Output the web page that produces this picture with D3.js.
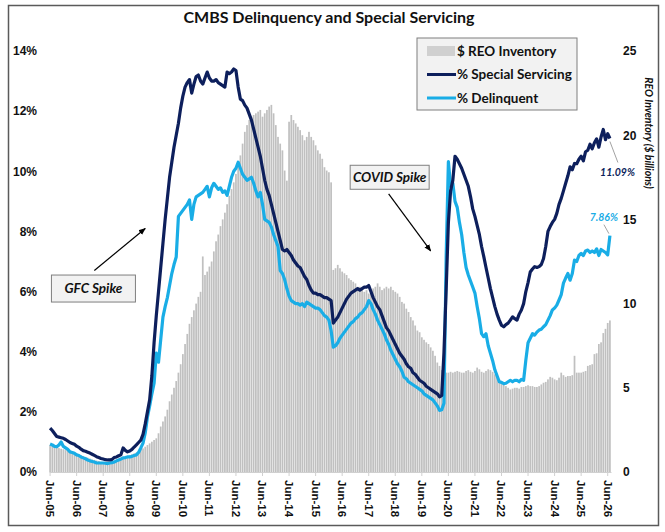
<!DOCTYPE html>
<html>
<head>
<meta charset="utf-8">
<script src="https://cdn.jsdelivr.net/npm/d3@7"></script>
<style>
  body { margin: 0; background: #fff; }
  svg { display: block; font-family: Lato, "Open Sans", sans-serif; }
</style>
</head>
<body>
<svg id="chart"></svg>
<script>
// monthly series, Jun-05 onward (one row = Jun..May)
var tickLabels = ["Jun-05","Jun-06","Jun-07","Jun-08","Jun-09","Jun-10","Jun-11",
  "Jun-12","Jun-13","Jun-14","Jun-15","Jun-16","Jun-17","Jun-18","Jun-19","Jun-20",
  "Jun-21","Jun-22","Jun-23","Jun-24","Jun-25","Jun-26"];

var leftTicks = [0, 2, 4, 6, 8, 10, 12, 14];
var rightTicks = [0, 5, 10, 15, 20, 25];

// $ billions
var reoInventory = [
  1.6, 1.55, 1.5, 1.45, 1.42, 1.38, 1.35, 1.3, 1.25, 1.2, 1.18, 1.15,
  1.1, 1.05, 1.0, 0.95, 0.9, 0.85, 0.8, 0.75, 0.72, 0.68, 0.65, 0.6,
  0.57, 0.55, 0.53, 0.55, 0.58, 0.62, 0.68, 0.75, 0.82, 0.88, 0.93, 0.97,
  1.0, 1.05, 1.1, 1.15, 1.2, 1.3, 1.4, 1.5, 1.6, 1.7, 1.8, 1.9,
  2.0, 2.3, 2.7, 3.0, 3.3, 3.7, 4.2, 4.6, 5.0, 5.4, 5.9, 6.4,
  7.0, 7.6, 8.2, 8.8, 9.2, 9.6, 10.0, 10.4, 10.7, 12.8, 11.7, 11.9,
  12.2, 12.5, 13.1, 13.7, 14.1, 14.6, 15.0, 15.4, 15.9, 16.4, 16.8, 17.2,
  17.7, 18.2, 18.8, 19.5, 20.2, 20.6, 20.9, 21.1, 21.2, 21.3, 21.4, 21.5,
  21.1, 21.3, 21.5, 21.7, 21.8, 21.3, 20.6, 19.9, 19.5, 19.1, 17.9, 17.3,
  20.8, 21.2, 20.9, 20.7, 20.5, 20.3, 20.0, 19.7, 19.9, 20.2, 19.9, 19.7,
  19.4, 19.1, 18.9, 18.6, 18.1, 17.9, 17.8, 17.2, 12.0, 12.1, 12.3, 12.1,
  11.9, 11.8, 11.7, 11.5, 11.4, 11.3, 11.2, 11.0, 11.0, 10.9, 10.7, 10.8,
  10.6, 10.7, 10.9, 11.0, 11.2, 11.0, 10.8, 10.9, 11.0, 10.9, 11.0, 10.8,
  10.7, 10.6, 10.4, 10.1, 10.0, 9.7, 9.5, 9.2, 9.0, 8.7, 8.4, 8.3,
  8.0, 7.85, 7.7, 7.6, 7.4, 7.2, 6.9, 6.5, 6.3, 6.05, 6.0, 5.9,
  5.9, 5.95, 5.9, 5.95, 6.0, 5.95, 5.9, 5.9, 6.0, 6.05, 5.95, 5.9,
  6.0, 6.2, 6.1, 5.95, 5.9, 6.0, 6.1, 6.05, 5.95, 5.8, 5.65, 5.5,
  5.3, 5.2, 5.1, 5.0, 4.9, 4.95, 5.0, 5.0, 4.95, 5.05, 5.05, 5.1,
  5.15, 5.1, 5.1, 5.05, 5.05, 5.1, 5.2, 5.3, 5.35, 5.5, 5.65, 5.6,
  5.5, 5.45, 5.6, 5.9, 5.75, 5.65, 5.7, 5.7, 5.75, 6.9, 5.9, 5.9,
  5.9, 5.95, 6.0, 6.3, 6.35, 6.4, 7.0, 7.05, 7.6, 7.7, 8.25, 8.5,
  8.85, 9.0
];

// %
var specialServicing = [
  1.46, 1.38, 1.28, 1.18, 1.16, 1.14, 1.12, 1.08, 1.03, 0.98, 0.95, 0.92,
  0.86, 0.82, 0.76, 0.71, 0.69, 0.66, 0.63, 0.59, 0.55, 0.51, 0.48, 0.45,
  0.43, 0.41, 0.40, 0.40, 0.42, 0.48, 0.50, 0.54, 0.57, 0.80, 0.72, 0.67,
  0.70, 0.75, 0.83, 0.90, 0.98, 1.06, 1.25, 1.6, 2.0, 2.4, 3.2, 4.3,
  5.2, 6.0, 6.8, 7.6, 8.4, 9.1, 9.8, 10.3, 10.8, 11.2, 11.6, 12.1,
  12.5, 12.8, 12.95, 13.05, 12.6, 12.9, 13.15, 13.2, 13.0, 12.9, 13.1, 13.3,
  13.1, 13.0, 13.0, 13.05, 12.95, 12.9, 12.85, 12.8, 13.3, 13.25, 13.3, 13.4,
  13.35, 12.8, 12.4, 12.35, 12.2, 12.1, 11.9, 11.7, 11.4, 11.1, 10.8, 10.5,
  10.1, 9.7, 9.4, 9.2, 8.9, 8.6, 8.3, 8.0, 7.7, 7.4, 7.35, 7.4,
  7.3, 7.2, 7.05, 6.95, 6.85, 6.8, 6.65, 6.5, 6.4, 6.2, 6.05, 5.95,
  5.95, 5.9, 5.9, 5.85, 5.8, 5.8, 5.75, 5.7, 4.95, 5.05, 5.15, 5.3,
  5.45, 5.6, 5.75, 5.85, 5.95, 6.0, 6.05, 6.1, 6.05, 6.1, 6.15, 6.15,
  6.2, 6.0, 5.8, 5.65, 5.5, 5.4, 5.2, 5.0, 4.8, 4.7, 4.55, 4.4,
  4.25, 4.1, 3.95, 3.85, 3.75, 3.6, 3.5, 3.45, 3.3, 3.25, 3.15, 3.05,
  3.0, 2.95, 2.85, 2.8, 2.75, 2.7, 2.65, 2.6, 2.5, 2.55, 3.97, 6.07,
  8.3, 9.35, 9.7, 10.5, 10.4, 10.25, 10.1, 9.9, 9.7, 9.5, 9.16, 8.75,
  8.5, 8.2, 7.9, 7.5, 7.16, 6.8, 6.45, 6.1, 5.8, 5.5, 5.25, 5.05,
  4.88, 4.83, 4.9, 4.95, 5.05, 5.16, 5.1, 5.05, 5.25, 5.39, 5.6, 6.0,
  6.3, 6.65, 6.75, 6.83, 6.8, 6.83, 6.9, 7.1, 7.5, 8.0, 8.16, 8.3,
  8.4, 8.6, 8.9, 9.1, 9.35, 9.6, 9.85, 10.15, 10.05, 10.26, 10.25, 10.4,
  10.5, 10.35, 10.65, 10.7, 10.9, 10.75, 10.95, 11.08, 10.8, 11.14, 11.39, 11.05,
  11.25, 11.09
];

// %
var delinquent = [
  0.93, 0.9, 0.85, 0.84, 0.9, 1.0, 0.85, 0.8, 0.75, 0.67, 0.65, 0.62,
  0.57, 0.55, 0.5, 0.47, 0.44, 0.4, 0.37, 0.35, 0.33, 0.3, 0.3, 0.3,
  0.3, 0.29, 0.28, 0.3, 0.31, 0.33, 0.37, 0.4, 0.43, 0.47, 0.48, 0.5,
  0.5, 0.52, 0.55, 0.57, 0.65, 0.8, 0.96, 1.3, 1.83, 2.2, 2.6, 2.95,
  3.95, 3.65, 4.4, 5.15, 5.5, 5.8, 6.2, 6.6, 6.9, 7.15, 8.5, 8.6,
  8.7, 8.8, 8.9, 9.05, 8.4, 8.9, 9.15, 9.2, 9.25, 9.3, 9.4, 9.5,
  9.15, 9.45, 9.6, 9.5, 9.4, 9.45, 9.3, 9.35, 9.2, 9.5, 9.8, 10.0,
  10.1, 10.3, 10.1, 9.9, 9.8, 9.7, 9.75, 9.8, 9.6, 9.35, 9.15, 9.3,
  8.9, 8.4, 8.35, 8.3, 8.15, 7.9, 7.7, 7.5, 6.7, 6.6, 6.4, 6.1,
  5.85, 5.7, 5.65, 5.6, 5.6, 5.55, 5.6, 5.5, 5.65, 5.6, 5.55, 5.5,
  5.45, 5.45, 5.4, 5.3, 5.2, 5.15, 5.05, 4.7, 4.15, 4.2, 4.3, 4.45,
  4.55, 4.65, 4.75, 4.85, 4.95, 5.0, 5.1, 5.15, 5.25, 5.3, 5.4, 5.5,
  5.7, 5.6, 5.4, 5.25, 5.05, 4.9, 4.75, 4.6, 4.4, 4.25, 4.05, 3.9,
  3.75, 3.6, 3.5, 3.35, 3.15, 3.1, 3.0, 2.95, 2.9, 2.85, 2.8, 2.75,
  2.7, 2.6, 2.55, 2.5, 2.45, 2.4, 2.3, 2.2, 2.05, 2.07, 2.29, 7.15,
  10.32, 9.5, 9.6, 9.0, 8.8, 8.3, 7.9, 7.3, 6.8, 6.55, 6.35, 6.15,
  5.95, 5.5, 5.1, 4.6, 4.5, 4.6, 4.2, 3.95, 3.7, 3.4, 3.2, 3.0,
  2.98, 2.94, 2.95, 3.0, 3.05, 3.0, 3.05, 3.05, 3.0, 3.08, 3.05, 3.72,
  4.3, 4.45, 4.6, 4.55, 4.65, 4.72, 4.75, 4.83, 4.9, 5.05, 5.2, 5.39,
  5.45, 5.55, 5.72, 5.9, 6.28, 6.45, 6.6, 6.38, 6.6, 7.05, 7.0, 7.2,
  7.27, 7.2, 7.35, 7.38, 7.3, 7.35, 7.3, 7.42, 7.2, 7.4, 7.35, 7.3,
  7.22, 7.86
];

var navy = "#0d1f5c", sky = "#19ade6", barGray = "#c0c0c0";

var svgWidth = 665, svgHeight = 532;
var plot = { left: 49, right: 611, top: 51, bottom: 472 };

var svg = d3.select("#chart")
  .attr("width", svgWidth)
  .attr("height", svgHeight);

// months as categories
var months = d3.timeMonth.range(new Date(2005, 5, 1), new Date(2005, 5 + reoInventory.length, 1));
var categories = months.map(d3.timeFormat("%b-%y"));

var x = d3.scaleBand()
  .domain(categories)
  .range([plot.left, plot.right])
  .paddingInner(0.22)
  .paddingOuter(0.1);
var xc = function(i) { return x(categories[i]) + x.bandwidth() / 2; };

var yL = d3.scaleLinear().domain([0, 14]).range([plot.bottom, plot.top]);
var yR = d3.scaleLinear().domain([0, 25]).range([plot.bottom, plot.top]);

// frame
svg.append("rect")
  .attr("x", 8.5).attr("y", 5.5)
  .attr("width", 650).attr("height", 520)
  .attr("fill", "none")
  .attr("stroke", "#5a5a5a")
  .attr("stroke-width", 1.5);

// title
svg.append("text")
  .attr("x", 329).attr("y", 23)
  .attr("text-anchor", "middle")
  .attr("font-size", 16)
  .attr("font-weight", "bold")
  .attr("fill", "#111")
  .text("CMBS Delinquency and Special Servicing");

// bars
svg.append("g")
  .selectAll("rect")
  .data(reoInventory)
  .join("rect")
  .attr("x", function(d, i) { return x(categories[i]); })
  .attr("width", x.bandwidth())
  .attr("y", function(d) { return yR(d); })
  .attr("height", function(d) { return yR(0) - yR(d); })
  .attr("fill", barGray);

// x axis
var juneTicks = categories.filter(function(d, i) { return i % 12 === 0; });
var xAxis = svg.append("g")
  .attr("transform", "translate(0," + plot.bottom + ")")
  .call(d3.axisBottom(x)
    .tickValues(juneTicks)
    .tickFormat(function(d, i) { return tickLabels[i]; })
    .tickSize(4)
    .tickSizeOuter(0));
xAxis.select(".domain").attr("stroke", "#d0d0d0");
xAxis.selectAll(".tick line").attr("stroke", "#d0d0d0");
xAxis.selectAll(".tick text")
  .attr("transform", "rotate(90)")
  .attr("x", 8).attr("y", 0).attr("dy", "0.35em")
  .attr("text-anchor", "start")
  .attr("font-size", 11.5)
  .attr("font-weight", "bold")
  .attr("fill", "#111");

// left axis
var leftAxis = svg.append("g")
  .attr("transform", "translate(" + plot.left + ",0)")
  .call(d3.axisLeft(yL)
    .tickValues(leftTicks)
    .tickFormat(function(d) { return d + "%"; })
    .tickSize(0)
    .tickPadding(12));
leftAxis.select(".domain").remove();
leftAxis.selectAll("text").attr("font-size", 12).attr("font-weight", "bold").attr("fill", "#111");

// right axis
var rightAxis = svg.append("g")
  .attr("transform", "translate(" + plot.right + ",0)")
  .call(d3.axisRight(yR)
    .tickValues(rightTicks)
    .tickSize(0)
    .tickPadding(12));
rightAxis.select(".domain").remove();
rightAxis.selectAll("text").attr("font-size", 12).attr("font-weight", "bold").attr("fill", "#111");

svg.append("text")
  .attr("transform", "translate(649,133) rotate(90)")
  .attr("text-anchor", "middle")
  .attr("dy", "0.35em")
  .attr("font-size", 10.5)
  .attr("font-weight", "bold")
  .attr("font-style", "italic")
  .attr("fill", "#111")
  .text("REO Inventory ($ billions)");

// lines
var line = d3.line()
  .x(function(d, i) { return xc(i); })
  .y(function(d) { return yL(d); });

svg.append("path")
  .datum(delinquent)
  .attr("fill", "none")
  .attr("stroke", sky)
  .attr("stroke-width", 3.2)
  .attr("stroke-linejoin", "round")
  .attr("d", line);

svg.append("path")
  .datum(specialServicing)
  .attr("fill", "none")
  .attr("stroke", navy)
  .attr("stroke-width", 3.2)
  .attr("stroke-linejoin", "round")
  .attr("d", line);

// end labels
var last = reoInventory.length - 1;
svg.append("line")
  .attr("x1", xc(last)).attr("y1", yL(specialServicing[last]) + 3)
  .attr("x2", xc(last) + 8).attr("y2", yL(specialServicing[last]) + 24)
  .attr("stroke", "#8a8a8a").attr("stroke-width", 0.8);
svg.append("text")
  .attr("x", xc(last) + 25).attr("y", yL(specialServicing[last]) + 37)
  .attr("text-anchor", "end")
  .attr("font-size", 10.5).attr("font-weight", "bold").attr("font-style", "italic")
  .attr("fill", navy)
  .text(specialServicing[last].toFixed(2) + "%");

svg.append("line")
  .attr("x1", xc(last) - 1).attr("y1", yL(delinquent[last]) - 2)
  .attr("x2", xc(last) - 6).attr("y2", yL(delinquent[last]) - 11)
  .attr("stroke", "#8a8a8a").attr("stroke-width", 0.8);
svg.append("text")
  .attr("x", xc(last) + 8).attr("y", yL(delinquent[last]) - 15)
  .attr("text-anchor", "end")
  .attr("font-size", 10.5).attr("font-weight", "bold").attr("font-style", "italic")
  .attr("fill", sky)
  .text(delinquent[last].toFixed(2) + "%");

// arrows
svg.append("defs").append("marker")
  .attr("id", "arrow")
  .attr("viewBox", "0 0 10 10")
  .attr("refX", 9).attr("refY", 5)
  .attr("markerWidth", 6).attr("markerHeight", 6)
  .attr("orient", "auto")
  .append("path")
  .attr("d", "M0,1 L10,5 L0,9 Z")
  .attr("fill", "#000");

function callout(label, box, from, to) {
  svg.append("line")
    .attr("x1", from[0]).attr("y1", from[1])
    .attr("x2", to[0]).attr("y2", to[1])
    .attr("stroke", "#000").attr("stroke-width", 1.2)
    .attr("marker-end", "url(#arrow)");
  svg.append("rect")
    .attr("x", box[0]).attr("y", box[1])
    .attr("width", box[2]).attr("height", box[3])
    .attr("fill", "#f2f2f2").attr("stroke", "#7f7f7f").attr("stroke-width", 1);
  svg.append("text")
    .attr("x", box[0] + box[2] / 2).attr("y", box[1] + box[3] / 2)
    .attr("dy", "0.35em")
    .attr("text-anchor", "middle")
    .attr("font-size", 13.5).attr("font-weight", "bold").attr("font-style", "italic")
    .attr("fill", "#111")
    .text(label);
}

// anchored to the data scales
callout("GFC Spike",
  [x(categories[1]), yL(6.55), 84, 27],
  [xc(20), yL(6.7)], [xc(43), yL(8.1)]);
callout("COVID Spike",
  [x(categories[136]), yL(10.2), 79, 24],
  [xc(153), yL(9.25)], [xc(172), yL(7.35)]);

// legend
var legend = svg.append("g").attr("transform", "translate(417,38)");
legend.append("rect")
  .attr("width", 160).attr("height", 72)
  .attr("fill", "#f2f2f2").attr("stroke", "#7f7f7f").attr("stroke-width", 1);
var items = [
  { name: "$ REO Inventory", type: "bar" },
  { name: "% Special Servicing", type: "line", color: navy },
  { name: "% Delinquent", type: "line", color: sky }
];
items.forEach(function(it, i) {
  var cy = 13 + i * 23.5;
  if (it.type === "bar") {
    legend.append("rect")
      .attr("x", 10).attr("y", cy - 5).attr("width", 28).attr("height", 10)
      .attr("fill", "#d0d0d0");
  } else {
    legend.append("line")
      .attr("x1", 10).attr("x2", 39).attr("y1", cy).attr("y2", cy)
      .attr("stroke", it.color).attr("stroke-width", 3);
  }
  legend.append("text")
    .attr("x", 40).attr("y", cy).attr("dy", "0.35em")
    .attr("font-size", 13.5).attr("font-weight", "bold")
    .attr("fill", "#111")
    .text(it.name);
});
</script>
</body>
</html>
